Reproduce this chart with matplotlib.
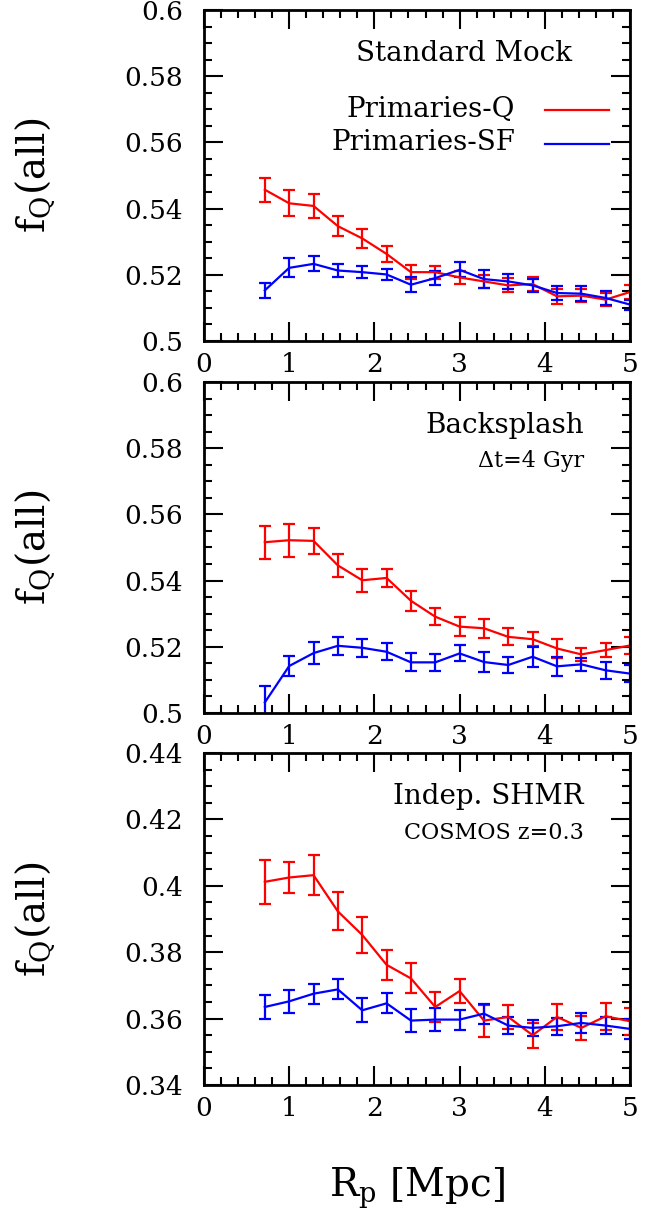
import numpy as np
import matplotlib
matplotlib.use("Agg")
import matplotlib.pyplot as plt
from matplotlib.ticker import MultipleLocator

plt.rcParams['font.family'] = ['DejaVu Serif']
plt.rcParams['mathtext.fontset'] = 'dejavuserif'

# ---------------- data ----------------
rp = [0.714, 1.0, 1.286, 1.571, 1.857, 2.143, 2.429, 2.714,
      3.0, 3.286, 3.571, 3.857, 4.143, 4.429, 4.714, 5.0]

# Panel 1: Standard Mock
std_q = [0.5457, 0.5416, 0.5408, 0.5347, 0.5310, 0.5263, 0.5208, 0.5208,
         0.5192, 0.5180, 0.5168, 0.5172, 0.5135, 0.5137, 0.5125, 0.5148]
std_q_err = [0.0036, 0.0039, 0.0035, 0.0030, 0.0029, 0.0025, 0.0022, 0.0020,
             0.0020, 0.0020, 0.0021, 0.0020, 0.0022, 0.0020, 0.0020, 0.0022]
std_sf = [0.5153, 0.5221, 0.5233, 0.5213, 0.5208, 0.5201, 0.5170, 0.5190,
          0.5215, 0.5187, 0.5180, 0.5168, 0.5145, 0.5143, 0.5130, 0.5110]
std_sf_err = [0.0023, 0.0029, 0.0023, 0.0020, 0.0018, 0.0017, 0.0023, 0.0020,
              0.0023, 0.0026, 0.0023, 0.0020, 0.0022, 0.0022, 0.0021, 0.0015]

# Panel 2: Backsplash
bs_q = [0.5516, 0.5522, 0.5520, 0.5446, 0.5401, 0.5408, 0.5339, 0.5291,
        0.5261, 0.5256, 0.5230, 0.5223, 0.5195, 0.5177, 0.5190, 0.5204]
bs_q_err = [0.0050, 0.0050, 0.0040, 0.0034, 0.0035, 0.0027, 0.0030, 0.0026,
            0.0028, 0.0028, 0.0026, 0.0021, 0.0028, 0.0020, 0.0020, 0.0025]
bs_sf = [0.5032, 0.5142, 0.5181, 0.5203, 0.5197, 0.5185, 0.5153, 0.5153,
         0.5180, 0.5154, 0.5145, 0.5170, 0.5141, 0.5147, 0.5129, 0.5119]
bs_sf_err = [0.0050, 0.0030, 0.0034, 0.0027, 0.0028, 0.0026, 0.0027, 0.0025,
             0.0024, 0.0030, 0.0025, 0.0030, 0.0028, 0.0020, 0.0025, 0.0025]

# Panel 3: Independent SHMR
sh_q = [0.4012, 0.4025, 0.4032, 0.3923, 0.3852, 0.3762, 0.3721, 0.3635,
        0.3683, 0.3594, 0.3605, 0.3550, 0.3605, 0.3572, 0.3607, 0.3592]
sh_q_err = [0.0067, 0.0046, 0.0060, 0.0057, 0.0054, 0.0046, 0.0045, 0.0045,
            0.0035, 0.0048, 0.0037, 0.0038, 0.0040, 0.0037, 0.0040, 0.0040]
sh_sf = [0.3635, 0.3652, 0.3675, 0.3688, 0.3625, 0.3646, 0.3594, 0.3597,
         0.3597, 0.3615, 0.3579, 0.3572, 0.3577, 0.3587, 0.3579, 0.3569]
sh_sf_err = [0.0036, 0.0035, 0.0030, 0.0030, 0.0036, 0.0030, 0.0035, 0.0035,
             0.0030, 0.0030, 0.0025, 0.0025, 0.0025, 0.0030, 0.0025, 0.0030]

panels = [
    dict(q=std_q, qe=std_q_err, sf=std_sf, sfe=std_sf_err, ylim=(0.5, 0.6),
         yticks=[0.5, 0.52, 0.54, 0.56, 0.58, 0.6],
         ylabels=["0.5", "0.52", "0.54", "0.56", "0.58", "0.6"],
         title="Standard Mock", sub=None),
    dict(q=bs_q, qe=bs_q_err, sf=bs_sf, sfe=bs_sf_err, ylim=(0.5, 0.6),
         yticks=[0.5, 0.52, 0.54, 0.56, 0.58, 0.6],
         ylabels=["0.5", "0.52", "0.54", "0.56", "0.58", "0.6"],
         title="Backsplash", sub="Δt=4 Gyr"),
    dict(q=sh_q, qe=sh_q_err, sf=sh_sf, sfe=sh_sf_err, ylim=(0.34, 0.44),
         yticks=[0.34, 0.36, 0.38, 0.4, 0.42, 0.44],
         ylabels=["0.34", "0.36", "0.38", "0.4", "0.42", "0.44"],
         title="Indep. SHMR", sub="COSMOS z=0.3"),
]
xticks = [0, 1, 2, 3, 4, 5]
xlabels = ["0", "1", "2", "3", "4", "5"]

W, H = 651, 1219
fig = plt.figure(figsize=(W / 100, H / 100), dpi=100)

left, right = 204, 630
tops = [10, 382, 753]
bottoms = [341, 713, 1085]
title_x = [0.864, 0.892, 0.892]

for i, p in enumerate(panels):
    ax = fig.add_axes([left / W, 1 - bottoms[i] / H, (right - left) / W,
                       (bottoms[i] - tops[i]) / H])
    ax.errorbar(rp, p['q'], yerr=p['qe'], color='red', lw=1.6, capsize=4.5,
                capthick=1.6, elinewidth=1.6)
    ax.errorbar(rp, p['sf'], yerr=p['sfe'], color='blue', lw=1.6, capsize=4.5,
                capthick=1.6, elinewidth=1.6)
    ax.set_xlim(0, 5)
    ax.set_ylim(*p['ylim'])
    ax.set_xticks(xticks)
    ax.set_xticklabels(xlabels)
    ax.set_yticks(p['yticks'])
    ax.set_yticklabels(p['ylabels'])
    ax.xaxis.set_minor_locator(MultipleLocator(0.2))
    ax.yaxis.set_minor_locator(MultipleLocator(0.005))
    ax.tick_params(which='both', direction='in', top=True, right=True,
                   width=1.5, labelsize=19)
    ax.tick_params(which='major', length=13.5)
    ax.tick_params(axis='y', which='major', pad=15)
    ax.tick_params(axis='x', which='major', pad=8)
    ax.tick_params(which='minor', length=6)
    for s in ax.spines.values():
        s.set_linewidth(2)
    ax.set_ylabel(r"f$_\mathregular{Q}$(all)", fontsize=28)
    ax.yaxis.set_label_coords(-0.345, 0.5)

    ax.text(title_x[i], 0.87, p['title'], transform=ax.transAxes, ha='right',
            va='center', fontsize=20)
    if p['sub'] is not None:
        ax.text(0.892, 0.76, p['sub'], transform=ax.transAxes, ha='right',
                va='center', fontsize=16)
    if i == 0:
        ax.text(0.73, 0.70, "Primaries-Q", transform=ax.transAxes, ha='right',
                va='center', fontsize=20)
        ax.text(0.73, 0.60, "Primaries-SF", transform=ax.transAxes, ha='right',
                va='center', fontsize=20)
        ax.plot([0.80, 0.95], [0.697, 0.697], color='red', lw=1.6,
                transform=ax.transAxes)
        ax.plot([0.80, 0.95], [0.595, 0.595], color='blue', lw=1.6,
                transform=ax.transAxes)
    if i == 2:
        ax.set_xlabel(r"R$_\mathregular{p}$ [Mpc]", fontsize=28, labelpad=32)

fig.savefig("out.png", dpi=100)
